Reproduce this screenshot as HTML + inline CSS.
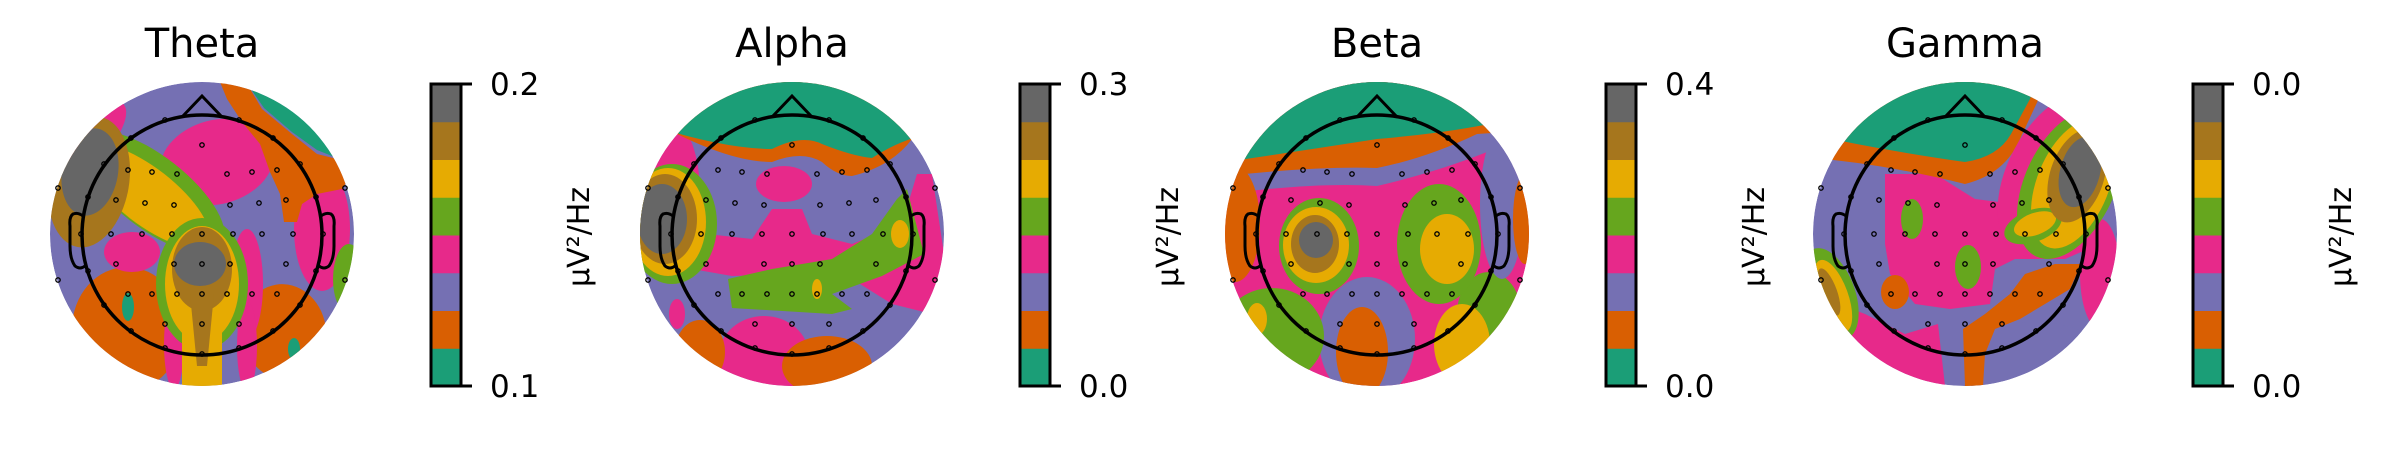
<!DOCTYPE html>
<html><head><meta charset="utf-8">
<style>
html,body{margin:0;padding:0;background:#fff;}
svg{display:block;font-family:"DejaVu Sans","Liberation Sans",sans-serif;}
</style></head>
<body>
<svg id="fig" width="2400" height="450" viewBox="0 0 2400 450" xmlns="http://www.w3.org/2000/svg">
<defs><clipPath id="headclip"><circle cx="0" cy="0" r="152"/></clipPath></defs>
</svg>
<script>
// Band names and value ranges
const bandTitles = ["Theta", "Alpha", "Beta", "Gamma"];
const tickTop = ["0.2", "0.3", "0.4", "0.0"];
const tickBottom = ["0.1", "0.0", "0.0", "0.0"];
// Dark2 levels bottom -> top
const levelColors = ["#1b9e77","#d95f02","#7570b3","#e7298a","#66a61e","#e6ab02","#a6761d","#666666"];
const T="#1b9e77",O="#d95f02",P="#7570b3",K="#e7298a",G="#66a61e",Y="#e6ab02",B="#a6761d",S="#666666";

// Sensor positions (relative to head centre)
const sensors = [
 [0,-89],[-74,-64],[-50,-62],[-25,-60],[25,-60],[50,-62],[75,-64],[-144,-46],[143,-46],
 [-86,-34],[-57,-31],[-28,-29],[28,-29],[57,-31],[84,-34],
 [-121,0],[-91,0],[-60,0],[-30,0],[0,0],[31,0],[60,0],[91,0],[121,0],
 [-86,30],[-28,30],[0,30],[28,30],[84,30],[-144,46],[143,46],
 [-74,60],[-50,60],[-25,60],[0,60],[25,60],[50,60],[75,60],
 [-37,90],[0,90],[37,90],
 [37,-114],[71,-96],[98,-70],[114,-37],[114,37],[98,71],[71,97],[37,114],[0,120],
 [-37,114],[-71,97],[-98,71],[-114,37],[-114,-37],[-98,-70],[-71,-96],[-37,-114]
];

// Contour regions per map: ['e',color,cx,cy,rx,ry,rot] or ['p',color,d]
const theta = [
 ['e',O,-75,95,55,62,0],['e',O,82,98,42,48,-10],
 ['e',K,120,-5,28,62,0],['e',G,147,45,16,35,0],
 ['e',K,15,-72,58,42,-15],['e',K,-70,18,28,20,0],['e',K,45,50,16,55,0],
 ['p',O,'M18 -152 L44 -152 L60 -125 L90 -100 L115 -80 L135 -75 L150 -60 L140 -45 L115 -40 L100 -30 L95 -12 L82 -12 L78 -40 L68 -62 L58 -90 L40 -112 L25 -135Z'],
 ['p',T,'M44 -152 L152 -152 L152 -58 L135 -76 L115 -84 L90 -102 L62 -126Z'],
 ['e',K,-28,110,10,45,0],['e',K,45,112,10,45,0],
 ['e',K,-105,-100,18,40,40],
 ['e',G,-50,-42,88,36,38],['e',Y,-55,-38,76,28,38],
 ['e',B,-113,-52,40,66,10],['e',S,-112,-62,28,44,10],
 ['e',G,0,50,46,66,0],['e',Y,0,50,37,58,0],['p',Y,'M-20 70 L20 70 L20 152 L-20 152Z'],
 ['e',B,0,35,30,42,0],['p',B,'M-12 60 L12 60 L5 132 L-5 132Z'],
 ['e',S,-2,30,26,22,0],
 ['e',T,-74,73,6,14,0],['e',T,92,115,6,11,0]
];
const alpha = [
 ['e',K,-118,-40,26,70,0],
 ['p',K,'M-85 0 L-40 5 L-20 -25 L10 -25 L20 0 L60 10 L110 -10 L125 -60 L140 -60 L152 20 L140 80 L100 70 L60 45 L0 40 L-60 42 L-100 35Z'],
 ['e',K,-8,-50,28,18,0],
 ['p',G,'M115 -45 L132 20 L90 42 L40 60 L60 75 L40 80 L-60 74 L-64 45 L-20 35 L40 25 L80 0 L105 -35Z'],
 ['p',O,'M-152 -120 Q-70 -72 -20 -72 Q10 -84 30 -72 Q45 -58 60 -58 Q100 -68 120 -95 L152 -112 L152 -152 L-152 -152Z'],
 ['p',T,'M-152 -112 Q-70 -85 -20 -85 Q10 -100 30 -90 Q60 -78 80 -76 Q110 -96 152 -104 L152 -152 L-152 -152Z'],
 ['e',G,-120,-10,45,60,0],['e',Y,-124,-12,38,54,0],['e',B,-127,-15,32,45,0],['e',S,-130,-15,25,35,0],
 ['e',Y,108,0,9,14,0],['e',Y,25,55,5,10,0],
 ['e',K,-28,122,45,40,0],['e',O,35,132,45,30,0],['e',O,-92,118,25,32,0],['e',K,-115,80,8,15,0]
];
const beta = [
 ['e',P,-10,105,48,62,0],['e',O,-15,118,26,45,0],
 ['e',G,-105,102,52,48,0],['e',Y,-120,85,10,16,0],
 ['e',G,112,80,32,42,0],['e',Y,85,110,28,40,0],
 ['e',P,125,-30,22,75,0],
 ['p',P,'M-152 -40 Q-60 -52 0 -48 Q60 -62 110 -82 L152 -60 L152 -152 L-152 -152Z'],
 ['p',O,'M-152 -58 Q-60 -68 0 -66 Q50 -76 100 -100 L130 -102 L152 -152 L-152 -152Z'],
 ['e',O,-142,-10,25,58,0],['e',O,148,-15,12,45,0],
 ['p',T,'M-152 -72 Q-70 -84 0 -95 Q60 -100 107 -109 L152 -152 L-152 -152Z'],
 ['e',G,-58,12,40,48,0],['e',Y,-61,11,33,38,0],['e',B,-62,10,24,29,0],['e',S,-61,6,17,18,0],
 ['e',G,62,10,42,60,0],['e',Y,70,15,27,35,0]
];
const gamma = [
 ['p',K,'M-152 60 L-100 80 L-60 100 L-27 90 L-20 152 L-152 152Z'],
 ['e',P,70,130,75,42,0],
 ['p',K,'M-80 -60 L-30 -60 L10 -35 L50 -30 L60 -20 L40 0 L65 10 L100 15 L140 0 L130 12 L100 25 L50 25 L30 35 L25 70 L-15 75 L-50 70 L-75 40 L-80 10Z'],
 ['e',K,135,40,20,55,0],
 ['p',O,'M116 30 L105 55 L80 70 L55 85 L30 95 L20 120 L18 152 L0 152 L-2 95 L20 80 L45 60 L60 40 L90 30Z'],
 ['e',O,-70,58,14,17,0],
 ['p',O,'M-152 -76 Q-80 -70 0 -50 Q40 -60 55 -95 L76 -140 L90 -152 L-152 -152Z'],
 ['p',T,'M-152 -99 Q-84 -84 0 -72 Q33 -77 46 -100 L65 -135 L70 -152 L-152 -152Z'],
 ['e',K,95,-60,52,90,28],
 ['e',G,105,-50,45,80,25],['e',Y,108,-50,36,68,22],
 ['e',G,68,-8,30,16,-20],['e',Y,70,-10,22,11,-20],
 ['e',B,112,-58,27,48,18],['e',S,115,-62,20,36,15],
 ['e',G,-53,-15,11,20,0],['e',G,3,33,13,22,0],
 ['e',G,-135,60,25,48,-20],['e',Y,-132,62,15,38,-20],['e',B,-136,58,8,25,-20]
];
const maps = [theta, alpha, beta, gamma];
const headX = [202, 792, 1377, 1965];
const barX = [431, 1020, 1606, 2193];
const cy = 234;

const NS = "http://www.w3.org/2000/svg";
const svg = document.getElementById('fig');
function mk(tag, attrs, parent){
  const el = document.createElementNS(NS, tag);
  for (const k in attrs) el.setAttribute(k, attrs[k]);
  parent.appendChild(el);
  return el;
}

for (let m = 0; m < 4; m++) {
  const g = mk('g', {transform:`translate(${headX[m]},${cy})`}, svg);
  
  
  const clipG = mk('g', {'clip-path':'url(#headclip)'}, g);
  
  
  const base = mk('circle', {cx:0, cy:0, r:152, fill: (m===2 ? K : P)}, clipG);
  
  
  for (const s of maps[m]) {
    let el;
    if (s[0] === 'e') {
      el = mk('ellipse', {cx:s[2], cy:s[3], rx:s[4], ry:s[5], fill:s[1], transform:`rotate(${s[6]} ${s[2]} ${s[3]})`}, clipG);
    } else {
      el = mk('path', {d:s[2], fill:s[1]}, clipG);
    }
    
    
  }
  const head = mk('circle', {cx:0, cy:1, r:120, fill:'none', stroke:'#000', 'stroke-width':3.5}, g);
  
  
  const nose = mk('path', {d:'M-20 -117 L0 -138 L20 -117', fill:'none', stroke:'#000', 'stroke-width':3}, g);
  
  
  const earL = mk('path', {d:'M-119 -18 Q-124 -22 -129 -20 Q-133 -17 -132 -8 L-132 12 Q-132 25 -127 32 Q-122 36 -117 32', fill:'none', stroke:'#000', 'stroke-width':3}, g);
  
  
  const earR = mk('path', {d:'M119 -18 Q124 -22 129 -20 Q133 -17 132 -8 L132 12 Q132 25 127 32 Q122 36 117 32', fill:'none', stroke:'#000', 'stroke-width':3}, g);
  
  
  for (const p of sensors) {
    const d = mk('circle', {cx:p[0], cy:p[1], r:2.2, fill:'none', stroke:'#000', 'stroke-width':1.3}, g);
    
    
  }
  const t = mk('text', {x:headX[m], y:57, 'text-anchor':'middle', 'font-size':40, fill:'#000'}, svg);
  t.textContent = bandTitles[m];
  
  
  const cb = mk('g', {}, svg);
  
  
  const x0 = barX[m], top = 84, bot = 386, w = 30, h = (bot - top) / levelColors.length;
  for (let i = 0; i < levelColors.length; i++) {
    const r = mk('rect', {x:x0, y:bot - (i+1)*h, width:w, height:h + 0.5, fill:levelColors[i]}, cb);
    
    
  }
  const fr = mk('rect', {x:x0, y:top, width:w, height:bot-top, fill:'none', stroke:'#000', 'stroke-width':3}, cb);
  
  
  for (const [yy, lab] of [[top, tickTop[m]], [bot, tickBottom[m]]]) {
    const tk = mk('line', {x1:x0+w, x2:x0+w+11, y1:yy, y2:yy, stroke:'#000', 'stroke-width':3}, cb);
    
    
    const tl = mk('text', {x:x0+w+29, y:yy+11, 'font-size':31, fill:'#000'}, cb);
    tl.textContent = lab;
    
    
  }
  const ul = mk('text', {x:0, y:0, 'font-size':30, fill:'#000', 'text-anchor':'middle', transform:`translate(${x0+158},${237}) rotate(-90)`}, cb);
  ul.textContent = 'µV²/Hz';
  
  
}
</script>
</body></html>
